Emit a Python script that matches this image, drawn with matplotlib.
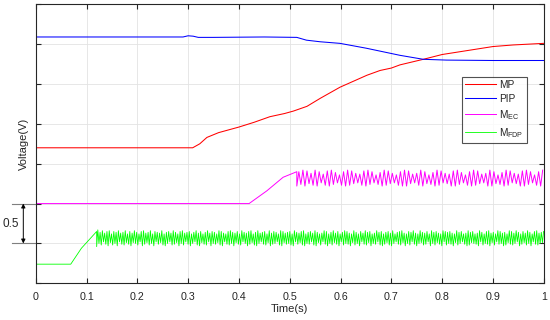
import numpy as np
import matplotlib
matplotlib.use("Agg")
import matplotlib.pyplot as plt
from matplotlib.transforms import blended_transform_factory

plt.rcParams['font.family'] = ['Liberation Sans', 'DejaVu Sans']
plt.rcParams['mathtext.fontset'] = 'custom'
plt.rcParams['mathtext.rm'] = 'Liberation Sans'

# ---------------- data ----------------
x_ticks = [0, 0.1, 0.2, 0.3, 0.4, 0.5, 0.6, 0.7, 0.8, 0.9, 1]
x_tick_labels = ['0', '0.1', '0.2', '0.3', '0.4', '0.5', '0.6', '0.7', '0.8', '0.9', '1']

mp_t = [0, 0.309, 0.323, 0.337, 0.36, 0.40, 0.43, 0.461, 0.49, 0.507, 0.534, 0.56,
        0.599, 0.652, 0.678, 0.70, 0.717, 0.763, 0.80, 0.85, 0.90, 0.94, 1.0]
mp_v = [1.70, 1.70, 1.75, 1.83, 1.89, 1.96, 2.02, 2.09, 2.13, 2.16, 2.22, 2.32,
        2.46, 2.61, 2.67, 2.70, 2.74, 2.81, 2.87, 2.92, 2.97, 2.99, 3.01]

pip_t = [0, 0.29, 0.30, 0.31, 0.32, 0.35, 0.45, 0.514, 0.533, 0.56, 0.599, 0.65,
         0.717, 0.763, 0.809, 0.90, 1.0]
pip_v = [3.09, 3.09, 3.105, 3.10, 3.085, 3.085, 3.09, 3.085, 3.05, 3.03, 3.01, 2.95,
         2.86, 2.81, 2.80, 2.795, 2.795]

mec_t = [0, 0.42, 0.455, 0.487, 0.514]
mec_v = [1.0, 1.0, 1.16, 1.33, 1.40]
mec_start = 0.514
mec_period = 0.008
mec_peaks = [1.40, 1.42, 1.41, 1.38, 1.42, 1.40, 1.37, 1.41, 1.42, 1.39, 1.36, 1.40, 1.42, 1.41, 1.38, 1.37, 1.41, 1.42, 1.40, 1.36,
             1.39, 1.42, 1.41, 1.38, 1.36, 1.40, 1.42, 1.41, 1.37, 1.38, 1.42, 1.40, 1.36, 1.39, 1.42, 1.41, 1.38, 1.37, 1.41, 1.42,
             1.39, 1.36, 1.40, 1.42, 1.41, 1.37, 1.38, 1.42, 1.40, 1.36, 1.39, 1.42, 1.41, 1.38, 1.37, 1.41, 1.42, 1.40, 1.36, 1.40, 1.42]
mec_troughs = [1.22, 1.24, 1.22, 1.25, 1.23, 1.22, 1.26, 1.23, 1.22, 1.24, 1.26, 1.23, 1.22, 1.23, 1.25, 1.26, 1.23, 1.22, 1.24, 1.26,
               1.24, 1.22, 1.23, 1.25, 1.26, 1.23, 1.22, 1.22, 1.25, 1.26, 1.23, 1.22, 1.25, 1.24, 1.22, 1.23, 1.26, 1.25, 1.22, 1.22,
               1.24, 1.26, 1.23, 1.22, 1.23, 1.25, 1.26, 1.22, 1.22, 1.25, 1.24, 1.22, 1.23, 1.26, 1.25, 1.22, 1.22, 1.24, 1.26, 1.23, 1.22]

mfdp_t = [0, 0.069, 0.09, 0.12]
mfdp_v = [0.24, 0.24, 0.44, 0.65]
mfdp_start = 0.12
mfdp_period = 0.0045
mfdp_peaks = [
    0.67, 0.64, 0.66, 0.63, 0.65, 0.66, 0.62, 0.65, 0.64, 0.66, 0.63, 0.64, 0.66, 0.62,
    0.65, 0.63, 0.66, 0.64, 0.62, 0.65, 0.66, 0.63, 0.64, 0.66, 0.62, 0.65, 0.64, 0.63,
    0.66, 0.62, 0.64, 0.65, 0.63, 0.66, 0.64, 0.62, 0.65, 0.66, 0.63, 0.64, 0.65, 0.62,
    0.64, 0.66, 0.63, 0.65, 0.62, 0.64, 0.66, 0.63, 0.65, 0.64, 0.62, 0.66, 0.65, 0.63,
    0.62, 0.65, 0.66, 0.64, 0.63, 0.65, 0.62, 0.66, 0.64, 0.63, 0.65, 0.66, 0.62, 0.64,
    0.66, 0.63, 0.64, 0.65, 0.62, 0.66, 0.63, 0.65, 0.64, 0.62, 0.66, 0.65, 0.63, 0.64,
    0.65, 0.62, 0.66, 0.64, 0.63, 0.65, 0.66, 0.62, 0.64, 0.65, 0.63, 0.66, 0.64, 0.62,
    0.63, 0.66, 0.65, 0.62, 0.64, 0.66, 0.63, 0.65, 0.62, 0.64, 0.66, 0.65, 0.63, 0.62,
    0.66, 0.64, 0.62, 0.65, 0.63, 0.66, 0.64, 0.65, 0.62, 0.63, 0.66, 0.64, 0.65, 0.62,
    0.64, 0.65, 0.63, 0.66, 0.62, 0.64, 0.65, 0.66, 0.63, 0.62, 0.65, 0.64, 0.66, 0.63,
    0.62, 0.66, 0.64, 0.63, 0.65, 0.62, 0.66, 0.64, 0.65, 0.63, 0.62, 0.66, 0.65, 0.64,
    0.65, 0.63, 0.62, 0.66, 0.64, 0.65, 0.62, 0.63, 0.66, 0.64, 0.65, 0.62, 0.63, 0.66,
    0.64, 0.62, 0.65, 0.66, 0.63, 0.64, 0.62, 0.66, 0.65, 0.63, 0.64, 0.62, 0.66, 0.65,
    0.63, 0.66, 0.64, 0.62, 0.65, 0.63, 0.66, 0.64, 0.62, 0.65, 0.66, 0.63, 0.64, 0.65]
mfdp_troughs = [
    0.46, 0.50, 0.48, 0.52, 0.49, 0.47, 0.51, 0.48, 0.50, 0.47, 0.52, 0.49, 0.48, 0.51,
    0.49, 0.47, 0.51, 0.50, 0.48, 0.52, 0.47, 0.49, 0.51, 0.48, 0.50, 0.47, 0.52, 0.49,
    0.51, 0.48, 0.47, 0.50, 0.52, 0.48, 0.49, 0.51, 0.47, 0.50, 0.48, 0.52, 0.49, 0.47,
    0.50, 0.52, 0.48, 0.47, 0.51, 0.49, 0.48, 0.52, 0.47, 0.50, 0.49, 0.51, 0.48, 0.47,
    0.52, 0.49, 0.48, 0.50, 0.47, 0.51, 0.49, 0.48, 0.52, 0.50, 0.47, 0.49, 0.51, 0.48,
    0.47, 0.50, 0.52, 0.49, 0.48, 0.51, 0.47, 0.49, 0.50, 0.52, 0.48, 0.47, 0.51, 0.49,
    0.50, 0.48, 0.47, 0.52, 0.49, 0.51, 0.48, 0.47, 0.50, 0.49, 0.52, 0.48, 0.47, 0.51,
    0.48, 0.52, 0.49, 0.47, 0.50, 0.48, 0.51, 0.49, 0.47, 0.52, 0.48, 0.50, 0.49, 0.47,
    0.51, 0.48, 0.50, 0.47, 0.52, 0.49, 0.48, 0.51, 0.47, 0.50, 0.49, 0.52, 0.48, 0.47,
    0.49, 0.51, 0.48, 0.47, 0.50, 0.52, 0.49, 0.48, 0.51, 0.47, 0.50, 0.48, 0.52, 0.49,
    0.47, 0.50, 0.51, 0.48, 0.49, 0.52, 0.47, 0.50, 0.48, 0.51, 0.49, 0.47, 0.52, 0.48,
    0.50, 0.49, 0.47, 0.51, 0.48, 0.50, 0.52, 0.49, 0.47, 0.48, 0.51, 0.50, 0.49, 0.47,
    0.52, 0.48, 0.50, 0.49, 0.47, 0.51, 0.48, 0.52, 0.49, 0.50, 0.47, 0.48, 0.51, 0.49,
    0.48, 0.50, 0.52, 0.47, 0.49, 0.51, 0.48, 0.50, 0.47, 0.52, 0.49, 0.48, 0.50, 0.51]

series_labels = ['MP', 'PIP', r'M$_{\mathrm{EC}}$', r'M$_{\mathrm{FDP}}$']
series_colors = ['#ff0000', '#0000ff', '#ff00ff', '#00ff00']


def ripple(t0, period, troughs, peaks):
    tt, vv = [], []
    for k, (lo, hi) in enumerate(zip(troughs, peaks)):
        tt += [t0 + k * period, t0 + (k + 0.5) * period]
        vv += [lo, hi]
    return tt, vv


rt, rv = ripple(mec_start, mec_period, mec_troughs, mec_peaks)
mec_full_t = mec_t + rt
mec_full_v = mec_v + rv
rt, rv = ripple(mfdp_start, mfdp_period, mfdp_troughs, mfdp_peaks)
mfdp_full_t = mfdp_t + rt
mfdp_full_v = mfdp_v + rv

# ---------------- figure ----------------
fig = plt.figure(figsize=(5.5, 3.2), dpi=100)
L, R, B, T = 35.7 / 550, 543.7 / 550, 1 - 283.3 / 320, 1 - 4.3 / 320
ax = fig.add_axes([L, B, R - L, T - B])

lw = 0.75
ax.plot(mp_t, mp_v, color=series_colors[0], lw=lw, label=series_labels[0])
ax.plot(pip_t, pip_v, color=series_colors[1], lw=lw, label=series_labels[1])
ax.plot(mec_full_t, mec_full_v, color=series_colors[2], lw=0.7, label=series_labels[2])
ax.plot(mfdp_full_t, mfdp_full_v, color=series_colors[3], lw=0.6, label=series_labels[3])

ax.set_xlim(0, 1)
ax.set_ylim(0, 3.5)
ax.set_xticks(x_ticks)
ax.set_xticklabels(x_tick_labels)
ax.set_yticks(np.arange(0, 3.51, 0.5))
ax.set_yticklabels([])
ax.grid(True, color='#e3e3e3', lw=0.6)
ax.set_axisbelow(True)
frame_col = '#262626'
for s in ax.spines.values():
    s.set_color(frame_col)
    s.set_linewidth(0.8)
ax.tick_params(direction='in', length=3.6, width=0.8, color=frame_col,
               top=True, right=True, labelsize=7.7, pad=6.0, labelcolor='#262626')

fig.text(289.7 / 550, 1 - 309 / 320, 'Time(s)', ha='center', va='center',
         fontsize=8, color='#262626')
fig.text(24 / 550, 1 - 144 / 320, 'Voltage(V)', ha='center', va='center',
         rotation=90, fontsize=8, color='#262626')

# 0.5 scale annotation
tr = blended_transform_factory(ax.transAxes, ax.transData)
for yv in (1.0, 0.5):
    ax.plot([-0.0472, 0], [yv, yv], color='#7f7f7f', lw=0.8, transform=tr, clip_on=False)
ax.annotate('', xy=(-0.0244, 0.5), xytext=(-0.0244, 1.0), xycoords=tr, textcoords=tr,
            arrowprops=dict(arrowstyle='<|-|>', color='black', lw=0.7,
                            mutation_scale=6, shrinkA=0, shrinkB=0))
ax.text(-0.0486, 0.745, '0.5', transform=tr, ha='center', va='center',
        fontsize=8.5, color='#262626')

leg = ax.legend(loc='upper left', bbox_to_anchor=(461.7 / 550, 1 - 76.7 / 320),
                bbox_transform=fig.transFigure, fontsize=7.3, frameon=True, fancybox=False,
                edgecolor='#262626', handlelength=3.1, handletextpad=0.3,
                borderpad=0.3, labelspacing=0.4, borderaxespad=0)
leg.get_frame().set_linewidth(0.8)
for t in leg.get_texts():
    t.set_color('#262626')

fig.savefig('out.png', dpi=100)
